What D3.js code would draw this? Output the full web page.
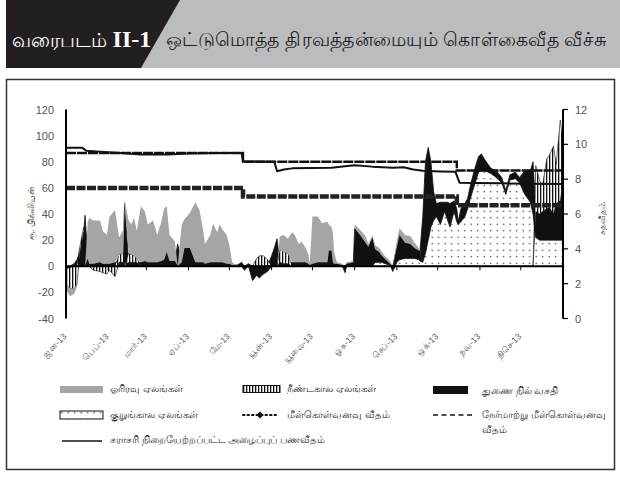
<!DOCTYPE html>
<html>
<head>
<meta charset="utf-8">
<script src="https://cdn.jsdelivr.net/npm/d3@7"></script>
<style>
  body { margin: 0; background: #fff; }
  svg { display: block; font-family: "Liberation Sans", "Noto Sans", sans-serif; }
</style>
</head>
<body>
<div id="chart"></div>
<script>
// day of year 2013 (0 = 1 Jan) for the liquidity series
const days = [0,3,6,8,10,13,14,16,17,20,25,27,30,32,36,39,42,43,46,48,50,52,55,58,60,64,67,70,72,74,76,80,82,85,87,91,95,98,101,102,106,108,111,113,115,118,120,122,126,129,131,134,137,140,142,145,148,151,153,155,157,160,163,166,168,171,173,176,178,179,181,185,188,192,193,195,196,197,199,203,205,206,211,212,216,220,222,225,227,230,232,234,238,240,243,245,249,253,256,259,260,262,264,266,268,270,272,275,278,280,282,285,287,288,290,293,295,297,300,303,305,308,312,316,320,323,326,330,333,337,341,343,345,348,350,353,355,358,360,363,365];

// Rs. billion
const shortTerm = [0,0,0,0,0,0,0,0,0,0,0,0,0,0,0,0,0,0,0,0,0,0,0,0,0,0,0,0,0,0,0,0,0,0,0,0,0,0,0,0,0,0,0,0,0,0,0,0,0,0,0,0,0,0,0,0,0,0,0,0,0,0,0,0,0,0,0,0,0,0,0,0,0,0,0,0,0,0,0,0,0,0,0,0,0,0,0,0,3,3,3,2,1,0,3,5,6,6,6,5,4,3,10,20,30,35,38,32,42,36,30,42,34,32,34,38,44,52,62,72,73,73,71,68,64,55,66,67,64,55,49,40,22,20,20,20,20,20,20,20,20];
const standing = [-2,-1,2,5,10,26,39,6,2,2,3,2,2,2,3,3,3,48,3,3,3,3,3,4,3,3,3,4,5,11,4,4,17,3,14,14,3,3,3,2,3,3,3,3,3,2,2,1,1,3,-3,2,-11,-7,-9,-6,-4,8,14,21,3,2,2,3,3,3,3,3,2,1,2,3,3,3,12,12,3,2,2,1,-5,2,3,29,24,18,15,22,10,8,5,4,1,-4,12,19,12,11,8,7,8,35,70,71,50,22,10,17,7,13,18,8,10,2,10,10,8,10,12,12,13,8,4,5,4,3,4,5,4,18,24,40,20,20,22,24,25,20,28,30,45];
const longTerm = [-12,-16,-17,-14,4,4,0,0,0,-3,-4,-5,-6,-3,-8,6,7,0,7,6,5,3,0,0,0,0,0,0,0,0,0,0,0,0,0,0,0,0,0,0,0,0,0,0,0,0,0,0,0,0,0,0,0,6,8,8,5,0,0,0,10,9,8,0,0,0,0,0,0,0,0,0,0,0,0,0,0,0,0,0,0,0,0,0,0,0,0,0,0,0,0,0,0,0,0,0,0,0,0,0,0,0,0,0,0,0,0,0,0,0,0,0,0,0,0,0,0,0,0,0,0,0,0,0,0,0,0,0,0,0,0,0,35,25,20,38,40,52,30,62,30];
const overnight = [-4,-6,-4,-2,0,0,0,28,35,33,32,25,22,36,40,13,18,3,25,23,29,21,43,38,29,32,21,30,39,35,20,15,0,29,22,27,46,40,23,15,21,30,23,29,25,22,14,2,0,0,0,0,0,0,0,0,0,0,0,0,10,13,11,23,21,14,16,11,7,1,36,35,30,31,20,18,23,8,1,1,0,1,1,3,4,5,2,2,3,3,3,2,2,0,5,5,6,6,4,2,1,0,0,0,0,0,0,0,0,0,0,0,0,0,0,0,0,0,0,0,0,0,0,0,0,0,0,0,0,0,0,0,0,0,0,0,0,0,0,0,0];

// per cent
const callDays = [0,12,15,25,40,55,75,90,110,129,130,153,155,160,166,180,195,205,212,225,240,248,255,262,275,286,289,300,320,340,365];
const callRate = [9.8,9.8,9.63,9.58,9.5,9.42,9.42,9.47,9.5,9.5,9.02,9.0,8.45,8.55,8.62,8.64,8.66,8.74,8.8,8.72,8.66,8.68,8.56,8.48,8.44,8.42,7.8,7.78,7.76,7.74,7.72];
const rateDays = [0,130,287,365];
const repoRate = [7.5,7.0,6.5,6.5];
const reverseRepoRate = [9.5,9.0,8.5,8.5];

const monthLabels = ["ஜன-13","பெப்-13","மார்-13","ஏப்-13","மே-13","யூன்-13","யூலை-13","ஓக-13","செப்-13","ஒக்-13","நவ-13","திசெ-13"];
const leftTicks = [-40,-20,0,20,40,60,80,100,120];
const rightTicks = [0,2,4,6,8,10,12];

const start = new Date(2013, 0, 1);
const toDate = d => d3.timeDay.offset(start, d);

const svg = d3.select("#chart").append("svg")
    .attr("width", 620)
    .attr("height", 478);

// header band
svg.append("rect").attr("x", 6).attr("y", 0).attr("width", 614).attr("height", 68).attr("fill", "#bbbcbe");
svg.append("path").attr("d", "M6,0 L180,0 L141,68 L6,68 Z").attr("fill", "#231f20");
svg.append("text")
    .attr("x", 12).attr("y", 47)
    .attr("fill", "#fff")
    .attr("font-size", "20px")
    .text("வரைபடம் ")
  .append("tspan")
    .attr("font-family", "Liberation Serif, serif")
    .attr("font-weight", "bold")
    .attr("font-size", "24px")
    .text("II-1");
svg.append("text")
    .attr("x", 166).attr("y", 46)
    .attr("fill", "#231f20")
    .attr("font-size", "19px")
    .attr("textLength", 440)
    .text("ஒட்டுமொத்த திரவத்தன்மையும் கொள்கைவீத வீச்சு");

// chart frame
svg.append("rect")
    .attr("x", 6.5).attr("y", 79.5).attr("width", 608).attr("height", 390)
    .attr("fill", "none").attr("stroke", "#333").attr("stroke-width", 1.5);

const x = d3.scaleTime()
    .domain([start, new Date(2014, 0, 1)])
    .range([66, 563]);
const y = d3.scaleLinear().domain([-40, 120]).range([318.5, 109.5]);
const yR = d3.scaleLinear().domain([0, 12]).range([318.5, 109.5]);

// patterns
const defs = svg.append("defs");
const hatch = defs.append("pattern")
    .attr("id", "hatch").attr("patternUnits", "userSpaceOnUse")
    .attr("width", 3).attr("height", 4);
hatch.append("rect").attr("width", 3).attr("height", 4).attr("fill", "#fff");
hatch.append("rect").attr("x", 0).attr("width", 1.3).attr("height", 4).attr("fill", "#111");

const dots = defs.append("pattern")
    .attr("id", "dots").attr("patternUnits", "userSpaceOnUse")
    .attr("width", 6.5).attr("height", 6.5);
dots.append("rect").attr("width", 6.5).attr("height", 6.5).attr("fill", "#fff");
dots.append("circle").attr("cx", 3.2).attr("cy", 3.2).attr("r", 0.75).attr("fill", "#222");

// stacked liquidity areas
const rows = days.map((d, i) => ({
  date: toDate(d),
  short: shortTerm[i],
  standing: standing[i],
  long: longTerm[i],
  overnight: overnight[i]
}));

const keys = ["short", "standing", "long", "overnight"];
const fills = {short: "url(#dots)", standing: "#111", long: "url(#hatch)", overnight: "#a5a5a5"};

const stacked = d3.stack()
    .keys(keys)
    .offset(d3.stackOffsetDiverging)(rows);

const area = d3.area()
    .x(d => x(d.data.date))
    .y0(d => y(d[0]))
    .y1(d => y(d[1]));

svg.append("g")
  .selectAll("path")
  .data(stacked)
  .join("path")
    .attr("d", area)
    .attr("fill", d => fills[d.key])
    .attr("stroke", d => d.key === "long" ? "#111" : (d.key === "standing" ? "#111" : "none"))
    .attr("stroke-width", d => d.key === "long" ? 0.6 : 0.8)
    .attr("stroke-linejoin", "round");

// x baseline with month ticks
const months = d3.timeMonth.range(start, new Date(2014, 0, 1));
svg.append("line")
    .attr("x1", 66).attr("x2", 563)
    .attr("y1", y(0)).attr("y2", y(0))
    .attr("stroke", "#000").attr("stroke-width", 2);
svg.append("g")
  .selectAll("line")
  .data(months.slice(1))
  .join("line")
    .attr("x1", d => x(d)).attr("x2", d => x(d))
    .attr("y1", y(0)).attr("y2", y(0) + 4)
    .attr("stroke", "#000").attr("stroke-width", 1);

svg.append("g")
  .selectAll("text")
  .data(months)
  .join("text")
    .attr("transform", d => `translate(${x(d) + 1},${337}) rotate(-45)`)
    .attr("text-anchor", "end")
    .attr("font-size", "8.5px")
    .attr("fill", "#555")
    .text((d, i) => monthLabels[i]);

// policy rates and call rate (right axis)
const rateLine = d3.line()
    .curve(d3.curveStepAfter)
    .x((d, i) => x(toDate(rateDays[i])))
    .y(d => yR(d));

svg.append("path")
    .attr("d", rateLine(reverseRepoRate))
    .attr("fill", "none")
    .attr("stroke", "#111")
    .attr("stroke-width", 2.4)
    .attr("stroke-dasharray", "10,1");

svg.append("path")
    .attr("d", rateLine(repoRate))
    .attr("fill", "none")
    .attr("stroke", "#222")
    .attr("stroke-width", 4.5)
    .attr("stroke-dasharray", "9,1.5");

const callLine = d3.line()
    .x((d, i) => x(toDate(callDays[i])))
    .y(d => yR(d));

svg.append("path")
    .attr("d", callLine(callRate))
    .attr("fill", "none")
    .attr("stroke", "#111")
    .attr("stroke-width", 2)
    .attr("stroke-linejoin", "round");

// left axis
svg.append("line")
    .attr("x1", 66).attr("x2", 66)
    .attr("y1", 109.5).attr("y2", 318.5)
    .attr("stroke", "#000").attr("stroke-width", 2);
svg.append("g")
  .selectAll("text")
  .data(leftTicks)
  .join("text")
    .attr("x", 54)
    .attr("y", d => y(d) + 4)
    .attr("text-anchor", "end")
    .attr("font-size", "11px")
    .attr("fill", "#555")
    .text(d => d);

// right axis
svg.append("line")
    .attr("x1", 563).attr("x2", 563)
    .attr("y1", 109.5).attr("y2", 318.5)
    .attr("stroke", "#000").attr("stroke-width", 2);
svg.append("g")
  .selectAll("line")
  .data(rightTicks)
  .join("line")
    .attr("x1", 563).attr("x2", 568)
    .attr("y1", d => yR(d)).attr("y2", d => yR(d))
    .attr("stroke", "#000").attr("stroke-width", 1.2);
svg.append("g")
  .selectAll("text")
  .data(rightTicks)
  .join("text")
    .attr("x", 575)
    .attr("y", d => yR(d) + 4)
    .attr("font-size", "11px")
    .attr("fill", "#555")
    .text(d => d);

// axis titles
svg.append("text")
    .attr("transform", "translate(34,213) rotate(-90)")
    .attr("text-anchor", "middle")
    .attr("font-size", "9px")
    .attr("fill", "#444")
    .text("ரூ. பில்லியன்");
svg.append("text")
    .attr("transform", "translate(605,218) rotate(-90)")
    .attr("text-anchor", "middle")
    .attr("font-size", "9px")
    .attr("fill", "#444")
    .text("சதவீதம்");

// legend
const lg = svg.append("g").attr("font-size", "9.5px").attr("fill", "#222");

lg.append("rect").attr("x", 60).attr("y", 386).attr("width", 43).attr("height", 7).attr("fill", "#a5a5a5");
lg.append("text").attr("x", 110).attr("y", 392).text("ஓரிரவு ஏலங்கள்");

lg.append("rect").attr("x", 243).attr("y", 385.5).attr("width", 37).attr("height", 7)
    .attr("fill", "url(#hatch)").attr("stroke", "#111").attr("stroke-width", 1);
lg.append("text").attr("x", 287).attr("y", 392).text("நீண்டகால ஏலங்கள்");

lg.append("rect").attr("x", 433).attr("y", 386).attr("width", 35).attr("height", 8).attr("fill", "#111");
lg.append("text").attr("x", 482).attr("y", 394).text("துணை நில் வசதி");

lg.append("rect").attr("x", 60).attr("y", 411).attr("width", 43).attr("height", 8)
    .attr("fill", "url(#dots)").attr("stroke", "#111").attr("stroke-width", 1);
lg.append("text").attr("x", 110).attr("y", 418).text("குறுங்கால ஏலங்கள்");

lg.append("line").attr("x1", 243).attr("x2", 277).attr("y1", 415).attr("y2", 415)
    .attr("stroke", "#111").attr("stroke-width", 2).attr("stroke-dasharray", "1.5,3").attr("stroke-linecap", "round");
lg.append("path").attr("d", "M260,411.5 L263.5,415 L260,418.5 L256.5,415 Z").attr("fill", "#111");
lg.append("text").attr("x", 287).attr("y", 418).text("மீள்கொள்வனவு வீதம்");

lg.append("line").attr("x1", 433).attr("x2", 475).attr("y1", 415).attr("y2", 415)
    .attr("stroke", "#111").attr("stroke-width", 1.5).attr("stroke-dasharray", "5,3.5");
lg.append("text").attr("x", 482).attr("y", 418).text("நேர்மாற்று மீள்கொள்வனவு");
lg.append("text").attr("x", 482).attr("y", 433).text("வீதம்");

lg.append("line").attr("x1", 62).attr("x2", 102).attr("y1", 441).attr("y2", 441)
    .attr("stroke", "#111").attr("stroke-width", 1.5);
lg.append("text").attr("x", 110).attr("y", 443).text("சராசரி நிறையேற்றப்பட்ட அழைப்புப் பணவீதம்");
</script>
</body>
</html>
